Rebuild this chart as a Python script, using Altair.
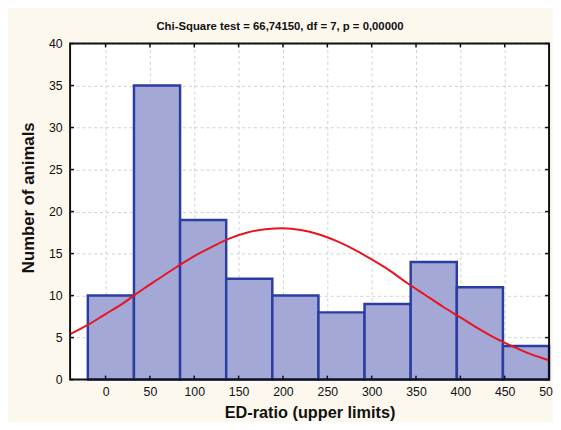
import altair as alt
import pandas as pd

# Histogram bins (lower edge, upper edge) and counts
bin_start = [-20, 32, 84, 136, 188, 240, 292, 344, 396, 448]
bin_end = [32, 84, 136, 188, 240, 292, 344, 396, 448, 500]
counts = [10, 35, 19, 12, 10, 8, 9, 14, 11, 4]

# Expected normal curve
curve_x = [-40, -20, 0, 20, 40, 60, 80, 100, 120, 140, 160, 180, 200, 220,
           240, 260, 280, 300, 320, 340, 360, 380, 400, 420, 440, 460, 480, 500]
curve_y = [5.4, 6.5, 7.8, 9.1, 10.6, 12.0, 13.4, 14.7, 15.8, 16.8, 17.5, 17.9,
           18.0, 17.8, 17.3, 16.5, 15.5, 14.3, 13.0, 11.5, 10.1, 8.7, 7.4,
           6.1, 4.9, 3.9, 3.0, 2.3]

x_ticks = [0, 50, 100, 150, 200, 250, 300, 350, 400, 450, 500]
y_ticks = [0, 5, 10, 15, 20, 25, 30, 35, 40]

bars_df = pd.DataFrame({"start": bin_start, "end": bin_end, "count": counts})
curve_df = pd.DataFrame({"x": curve_x, "y": curve_y})
xt_df = pd.DataFrame({"t": x_ticks})
yt_df = pd.DataFrame({"t": y_ticks})

FONT = "Liberation Sans"
W, H = 486, 341
INK = "#111111"

xscale = alt.Scale(domain=[-40, 500], nice=False, zero=False)
yscale = alt.Scale(domain=[0, 40], nice=False)

xaxis = alt.Axis(values=x_ticks, title="ED-ratio (upper limits)", grid=True,
                 gridColor="#CFCFCF", gridDash=[3, 3], gridWidth=1,
                 domain=False, ticks=False, labelPadding=6,
                 labelFontSize=12.5, labelFont=FONT, labelColor=INK,
                 titleFont=FONT, titleFontSize=16.5, titleFontWeight="bold",
                 titleColor=INK, titlePadding=7, labelFlush=False,
                 labelOverlap=False)
yaxis = alt.Axis(values=y_ticks, title="Number of animals", grid=True,
                 gridColor="#CFCFCF", gridDash=[3, 3], gridWidth=1,
                 domain=False, ticks=False, labelPadding=8,
                 labelFontSize=12.5, labelFont=FONT, labelColor=INK,
                 titleFont=FONT, titleFontSize=17, titleFontWeight="bold",
                 titleColor=INK, titlePadding=11, titleY=156,
                 labelFlush=False)

bars = alt.Chart(bars_df).mark_rect(
    fill="#A3A8D6", stroke="#2B3DA0", strokeWidth=2.5
).encode(
    x=alt.X("start:Q", scale=xscale, axis=xaxis),
    x2="end:Q",
    y=alt.Y("count:Q", scale=yscale, axis=yaxis),
)

curve = alt.Chart(curve_df).mark_line(
    color="#E8141E", strokeWidth=2, interpolate="monotone"
).encode(
    x=alt.X("x:Q", scale=xscale),
    y=alt.Y("y:Q", scale=yscale),
)

# plot frame drawn on top of grid and bars
frame = alt.Chart(pd.DataFrame({"k": [0]})).mark_rect(
    filled=False, stroke=INK, strokeWidth=2
).encode(
    x=alt.value(0), x2=alt.value(W), y=alt.value(0), y2=alt.value(H)
)

# small inward tick marks
xt_bottom = alt.Chart(xt_df).mark_rule(color=INK, strokeWidth=1.5).encode(
    x=alt.X("t:Q", scale=xscale), y=alt.value(H - 4), y2=alt.value(H))
xt_top = alt.Chart(xt_df).mark_rule(color=INK, strokeWidth=1.5).encode(
    x=alt.X("t:Q", scale=xscale), y=alt.value(0), y2=alt.value(4))
yt_left = alt.Chart(yt_df).mark_rule(color=INK, strokeWidth=1.5).encode(
    y=alt.Y("t:Q", scale=yscale), x=alt.value(0), x2=alt.value(4))
yt_right = alt.Chart(yt_df).mark_rule(color=INK, strokeWidth=1.5).encode(
    y=alt.Y("t:Q", scale=yscale), x=alt.value(W - 4), x2=alt.value(W))

chart = alt.layer(bars, curve, xt_bottom, xt_top, yt_left, yt_right, frame).properties(
    width=W,
    height=H,
    title=alt.TitleParams(
        text="Chi-Square test = 66,74150, df = 7, p = 0,00000",
        font=FONT, fontSize=11.5, fontWeight="bold", color=INK,
        anchor="middle", dx=-30, offset=-6, baseline="bottom",
    ),
    autosize=alt.AutoSizeParams(type="none"),
    padding={"left": 63, "top": 33, "right": 4, "bottom": 40},
    background="#FCF8EE",
).configure_view(
    stroke=None, fill="white"
)

chart.save("out.html", embed_options={"renderer": "svg", "actions": False})
